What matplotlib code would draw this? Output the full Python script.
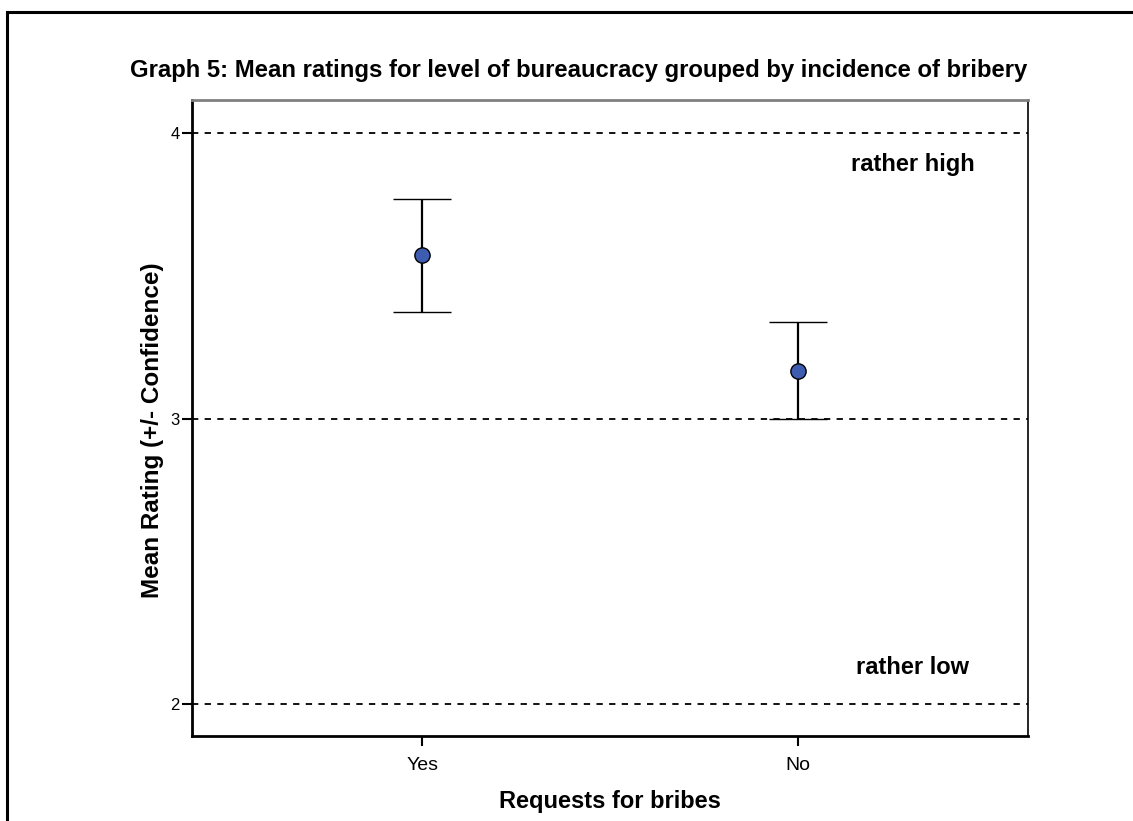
import matplotlib
matplotlib.use("Agg")
import matplotlib.pyplot as plt
from matplotlib.patches import Rectangle

categories = ["Yes", "No"]
means = [3.573, 3.166]
upper = [3.769, 3.338]
lower = [3.373, 3.000]
ref_levels = [2, 3, 4]
yticks = [2, 3, 4]

plt.rcParams['font.family'] = ['Liberation Sans', 'DejaVu Sans']

fig = plt.figure(figsize=(11.33, 8.21), dpi=100)
W, H = 1133, 821
ax = fig.add_axes([192 / W, 1 - 736 / H, (1028 - 192) / W, (736 - 100) / H])

x = [1, 2]
yerr = [[m - l for m, l in zip(means, lower)], [u - m for m, u in zip(means, upper)]]
for lvl in ref_levels:
    ax.axhline(lvl, color='black', linestyle=(0, (3.5, 3.5)), linewidth=1.3, zorder=1)
ax.errorbar(x, means, yerr=yerr, fmt='o', color='black', ecolor='black',
            elinewidth=1.6, capsize=21, capthick=2.2, markersize=11,
            markerfacecolor='#3f5db0', markeredgecolor='black', markeredgewidth=1.0, zorder=3)

ax.set_xlim(0.388, 2.612)
ax.set_ylim(1.888, 4.116)
ax.set_xticks(x)
ax.set_xticklabels(categories, fontsize=14)
ax.set_yticks(yticks)
ax.set_yticklabels([str(t) for t in yticks], fontsize=12)
ax.tick_params(axis='both', direction='out', length=7, width=1.5, color='black')
ax.tick_params(axis='x', pad=8)
ax.tick_params(axis='y', pad=2)

ax.spines['left'].set_linewidth(2)
ax.spines['bottom'].set_linewidth(2)
ax.spines['top'].set_color('#808080')
ax.spines['top'].set_linewidth(2)
ax.spines['right'].set_linewidth(1.2)

ax.set_xlabel("Requests for bribes", fontsize=17, fontweight='bold')
ax.set_ylabel("Mean Rating (+/- Confidence)", fontsize=17.5, fontweight='bold')
ax.xaxis.set_label_coords(0.5, -(801 - 736) / 636, transform=ax.transAxes)
ax.xaxis.label.set_va('center')
ax.yaxis.set_label_coords(-(192 - 152) / 836, (736 - 430) / 636, transform=ax.transAxes)
ax.yaxis.label.set_va('center')

ax.text((913 - 192) / 836, (736 - 164) / 636, "rather high", transform=ax.transAxes,
        ha='center', va='center', fontsize=17, fontweight='bold')
ax.text((912 - 192) / 836, (736 - 667) / 636, "rather low", transform=ax.transAxes,
        ha='center', va='center', fontsize=17, fontweight='bold')

fig.text(579 / W, 1 - 70 / H,
         "Graph 5: Mean ratings for level of bureaucracy grouped by incidence of bribery",
         ha='center', va='center', fontsize=17.2, fontweight='bold')

fig.patches.append(Rectangle((7 / W, -0.1), 1.2, 1 - 12 / H + 0.1, transform=fig.transFigure,
                             fill=False, edgecolor='black', linewidth=2.2))

fig.savefig("out.png", dpi=100)
